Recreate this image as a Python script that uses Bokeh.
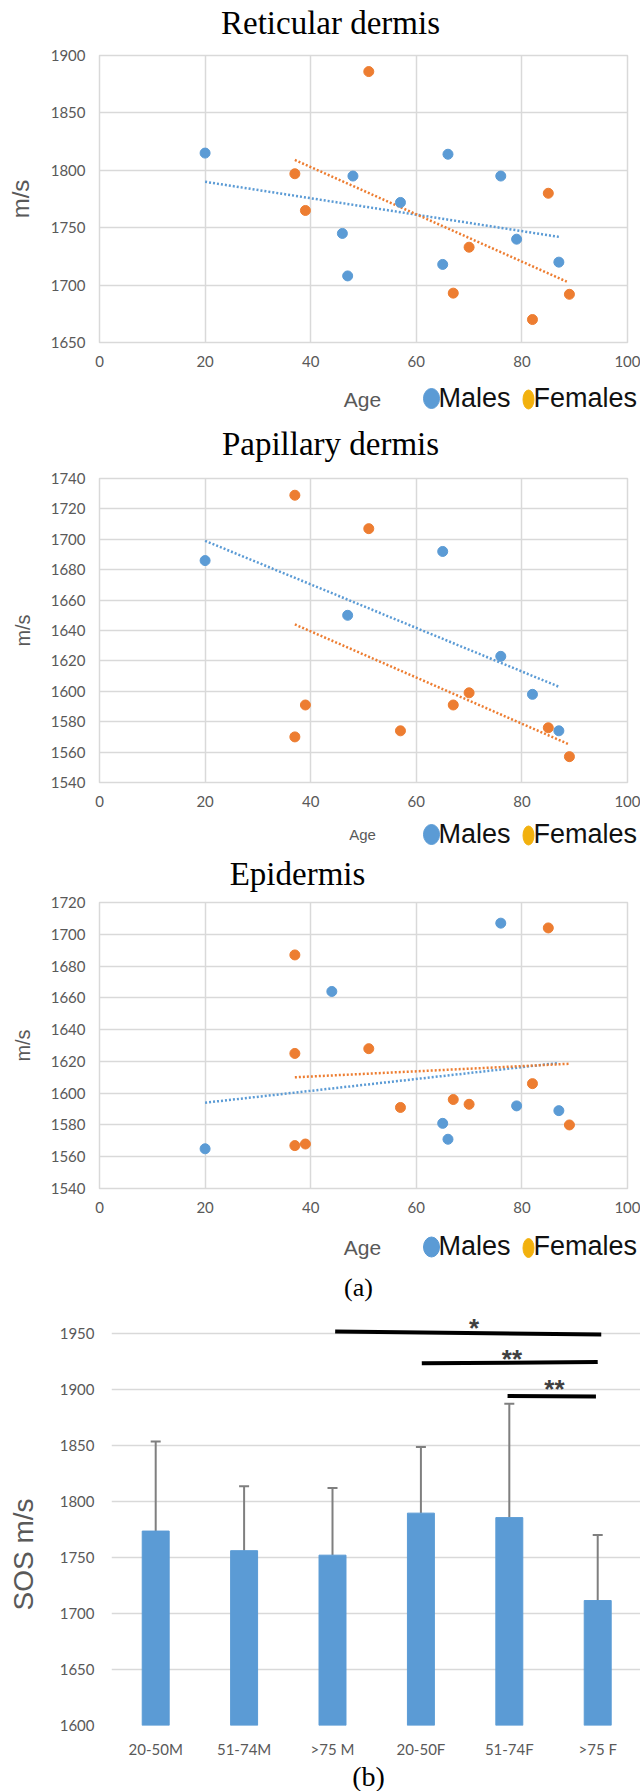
from math import pi
from bokeh.plotting import figure
from bokeh.layouts import column, row
from bokeh.models import Range1d, FixedTicker, Whisker, TeeHead, ColumnDataSource
from bokeh.embed import file_html
from bokeh.resources import INLINE
from bokeh.core.properties import value

# ---------------- data ----------------
age_ticks = [0, 20, 40, 60, 80, 100]

ret_m_age = [20, 46, 47, 48, 57, 65, 66, 76, 79, 87]
ret_m_sos = [1815, 1745, 1708, 1795, 1772, 1718, 1814, 1795, 1740, 1720]
ret_f_age = [37, 39, 51, 67, 70, 82, 85, 89]
ret_f_sos = [1797, 1765, 1886, 1693, 1733, 1670, 1780, 1692]
ret_m_fit_age = [20, 87]
ret_m_fit_sos = [1790, 1742]
ret_f_fit_age = [37, 88.5]
ret_f_fit_sos = [1809, 1703]

pap_m_age = [20, 47, 65, 76, 82, 87]
pap_m_sos = [1686, 1650, 1692, 1623, 1598, 1574]
pap_f_age = [37, 37, 39, 51, 57, 67, 70, 85, 89]
pap_f_sos = [1729, 1570, 1591, 1707, 1574, 1591, 1599, 1576, 1557]
pap_m_fit_age = [20, 87]
pap_m_fit_sos = [1699, 1603]
pap_f_fit_age = [37, 89]
pap_f_fit_sos = [1644, 1565]

epi_m_age = [20, 44, 65, 66, 76, 79, 87]
epi_m_sos = [1565, 1664, 1581, 1571, 1707, 1592, 1589]
epi_f_age = [37, 37, 37, 39, 51, 57, 67, 70, 82, 85, 89]
epi_f_sos = [1687, 1625, 1567, 1568, 1628, 1591, 1596, 1593, 1606, 1704, 1580]
epi_m_fit_age = [20, 87]
epi_m_fit_sos = [1594, 1619]
epi_f_fit_age = [37, 89]
epi_f_fit_sos = [1610, 1618.5]

groups = ["20-50M", "51-74M", ">75 M", "20-50F", "51-74F", ">75 F"]
mean_sos = [1773.5, 1756, 1752, 1789.5, 1785.5, 1711.5]
upper_sos = [1853.5, 1813.5, 1812, 1848.5, 1887, 1770]
bar_ticks = [1600, 1650, 1700, 1750, 1800, 1850, 1900, 1950]
sig_x_from = [2.53, 3.51, 4.48]
sig_x_to = [5.54, 5.50, 5.48]
sig_y_from = [1951.5, 1923.2, 1894.0]
sig_y_to = [1948.9, 1924.4, 1893.5]
sig_text = ["*", "**", "**"]
sig_text_x = [4.10, 4.53, 5.01]
sig_text_y = [1955, 1927, 1900]

# ---------------- style ----------------
W = 640
BLUE = "#5B9BD5"
ORANGE = "#ED7D31"
GOLD = "#F2B10E"
GRID = "#D9D9D9"
GRAY = "#595959"
TICK_FONT = "Lato"
SANS = "Liberation Sans"
SERIF = "Liberation Serif"


def strip(h, w=W):
    p = figure(width=w, height=h, x_range=Range1d(0, w), y_range=Range1d(h, 0),
               x_axis_type=None, y_axis_type=None, toolbar_location=None,
               min_border=0, output_backend="svg")
    p.frame_align = False
    p.outline_line_color = None
    p.grid.visible = False
    return p


def title_strip(h, text, cx, baseline):
    p = strip(h)
    p.text(x=[cx], y=[baseline], text=[text], text_font=value(SERIF),
           text_font_size="33px", text_align="center", text_baseline="alphabetic",
           text_color="black")
    return p


def legend_strip(h, age_size, age_base, leg_base, ell_y, extra=None):
    p = strip(h)
    p.text(x=[362], y=[age_base], text=["Age"], text_font=value(SANS),
           text_font_size=age_size, text_align="center", text_baseline="alphabetic",
           text_color=GRAY)
    p.ellipse(x=[431], y=[ell_y], width=[16], height=[20], fill_color=BLUE, line_color=BLUE)
    p.ellipse(x=[528], y=[ell_y + 1], width=[11], height=[19], fill_color=GOLD, line_color=GOLD)
    p.text(x=[438, 533], y=[leg_base, leg_base], text=["Males", "Females"],
           text_font=value(SANS), text_font_size="27px", text_align="left",
           text_baseline="alphabetic", text_color="#111111")
    if extra:
        p.text(x=[extra[0]], y=[extra[1]], text=[extra[2]], text_font=value(SERIF),
               text_font_size="26px", text_align="center", text_baseline="alphabetic",
               text_color="black")
    return p


def scatter_fig(h, top, bottom, yr, ystep, ylabel, ylabel_size,
                m_age, m_sos, f_age, f_sos, mfa, mfs, ffa, ffs):
    p = figure(width=W, height=h, x_range=Range1d(0, 100), y_range=Range1d(*yr),
               toolbar_location=None, output_backend="svg",
               min_border_left=99, min_border_right=13,
               min_border_top=top, min_border_bottom=bottom)
    p.frame_align = False
    p.outline_line_color = GRID
    p.outline_line_width = 1.5
    p.grid.grid_line_color = GRID
    p.grid.grid_line_width = 1.5
    yt = list(range(yr[0], yr[1] + 1, ystep))
    p.xaxis.ticker = FixedTicker(ticks=age_ticks)
    p.yaxis.ticker = FixedTicker(ticks=yt)
    p.xgrid.ticker = FixedTicker(ticks=age_ticks)
    p.ygrid.ticker = FixedTicker(ticks=yt)
    for ax in (p.xaxis[0], p.yaxis[0]):
        ax.axis_line_color = None
        ax.major_tick_line_color = None
        ax.minor_tick_line_color = None
        ax.major_tick_out = 0
        ax.major_tick_in = 0
        ax.major_label_text_font = TICK_FONT
        ax.major_label_text_font_size = "15px"
        ax.major_label_text_color = GRAY
    p.xaxis.major_label_standoff = 13
    p.yaxis.major_label_standoff = 14
    p.yaxis.axis_label = ylabel
    p.yaxis.axis_label_text_font = SANS
    p.yaxis.axis_label_text_font_style = "normal"
    p.yaxis.axis_label_text_font_size = ylabel_size
    p.yaxis.axis_label_text_color = GRAY
    p.yaxis.axis_label_standoff = 14
    p.line(mfa, mfs, line_color=BLUE, line_width=2.5, line_dash="2 2")
    p.line(ffa, ffs, line_color=ORANGE, line_width=2.5, line_dash="2 2")
    p.scatter(m_age, m_sos, size=10, fill_color=BLUE, line_color=BLUE)
    p.scatter(f_age, f_sos, size=10, fill_color=ORANGE, line_color=ORANGE)
    return p


# Reticular dermis
t1 = title_strip(44, "Reticular dermis", 330, 22)
f1 = scatter_fig(334, 11, 36, (1650, 1900), 50, "m/s", "24px",
                 ret_m_age, ret_m_sos, ret_f_age, ret_f_sos,
                 ret_m_fit_age, ret_m_fit_sos, ret_f_fit_age, ret_f_fit_sos)
l1 = legend_strip(40, "21px", 21, 19, 20)

# Papillary dermis
t2 = title_strip(46, "Papillary dermis", 330, 25)
f2 = scatter_fig(351, 14, 33, (1540, 1740), 20, "m/s", "20px",
                 pap_m_age, pap_m_sos, pap_f_age, pap_f_sos,
                 pap_m_fit_age, pap_m_fit_sos, pap_f_fit_age, pap_f_fit_sos)
l2 = legend_strip(35, "15px", 18.5, 18, 19)

# Epidermis
t3 = title_strip(42, "Epidermis", 297, 23)
f3 = scatter_fig(330, 10, 34, (1540, 1720), 20, "m/s", "20px",
                 epi_m_age, epi_m_sos, epi_f_age, epi_f_sos,
                 epi_m_fit_age, epi_m_fit_sos, epi_f_fit_age, epi_f_fit_sos)
l3 = legend_strip(83, "21px", 25, 23, 24.5, extra=(358, 65, "(a)"))

# Bar chart
BH = 457
LW = 53
ylab = strip(BH, LW)
ylab.text(x=[23], y=[249], text=["SOS m/s"], angle=pi / 2, text_font=value(SANS),
          text_font_size="28px", text_align="center", text_baseline="middle",
          text_color=GRAY)

centers = [i + 0.5 for i in range(len(groups))]
pb = figure(width=W - LW, height=BH, x_range=Range1d(0, 5.984),
            y_range=Range1d(1600, 1972.1), toolbar_location=None, output_backend="svg",
            min_border_left=58, min_border_right=0, min_border_top=3, min_border_bottom=37)
pb.frame_align = False
pb.outline_line_color = None
pb.xgrid.visible = False
pb.ygrid.grid_line_color = GRID
pb.ygrid.grid_line_width = 1.5
pb.yaxis.ticker = FixedTicker(ticks=bar_ticks)
pb.ygrid.ticker = FixedTicker(ticks=bar_ticks)
pb.xaxis.ticker = FixedTicker(ticks=centers)
pb.xaxis.major_label_overrides = {c: g for c, g in zip(centers, groups)}
for ax in (pb.xaxis[0], pb.yaxis[0]):
    ax.axis_line_color = None
    ax.major_tick_line_color = None
    ax.minor_tick_line_color = None
    ax.major_tick_out = 0
    ax.major_tick_in = 0
    ax.major_label_text_font = TICK_FONT
    ax.major_label_text_font_size = "15px"
    ax.major_label_text_color = GRAY
pb.xaxis.major_label_standoff = 14
pb.yaxis.major_label_standoff = 17

src = ColumnDataSource(dict(x=centers, top=mean_sos, upper=upper_sos))
pb.vbar(x="x", top="top", bottom=1600, width=0.305, source=src,
        fill_color=BLUE, line_color=BLUE)
wh = Whisker(base="x", lower="top", upper="upper", source=src,
             line_color="#7F7F7F", line_width=2,
             upper_head=TeeHead(size=10, line_color="#7F7F7F", line_width=2),
             lower_head=None)
pb.add_layout(wh)
pb.segment(x0=sig_x_from, y0=sig_y_from, x1=sig_x_to, y1=sig_y_to,
           line_color="black", line_width=4)
pb.text(x=sig_text_x, y=sig_text_y, text=sig_text, text_font=value(SANS),
        text_font_size="26px", text_font_style="bold", text_align="center",
        text_baseline="middle", text_color="#404040")

bstrip = strip(29)
bstrip.text(x=[368], y=[14], text=["(b)"], text_font=value(SERIF),
            text_font_size="28px", text_align="center", text_baseline="alphabetic",
            text_color="black")

layout = column(t1, f1, l1, t2, f2, l2, t3, f3, l3, row(ylab, pb), bstrip)
open("out.html", "w").write(file_html(layout, INLINE))
